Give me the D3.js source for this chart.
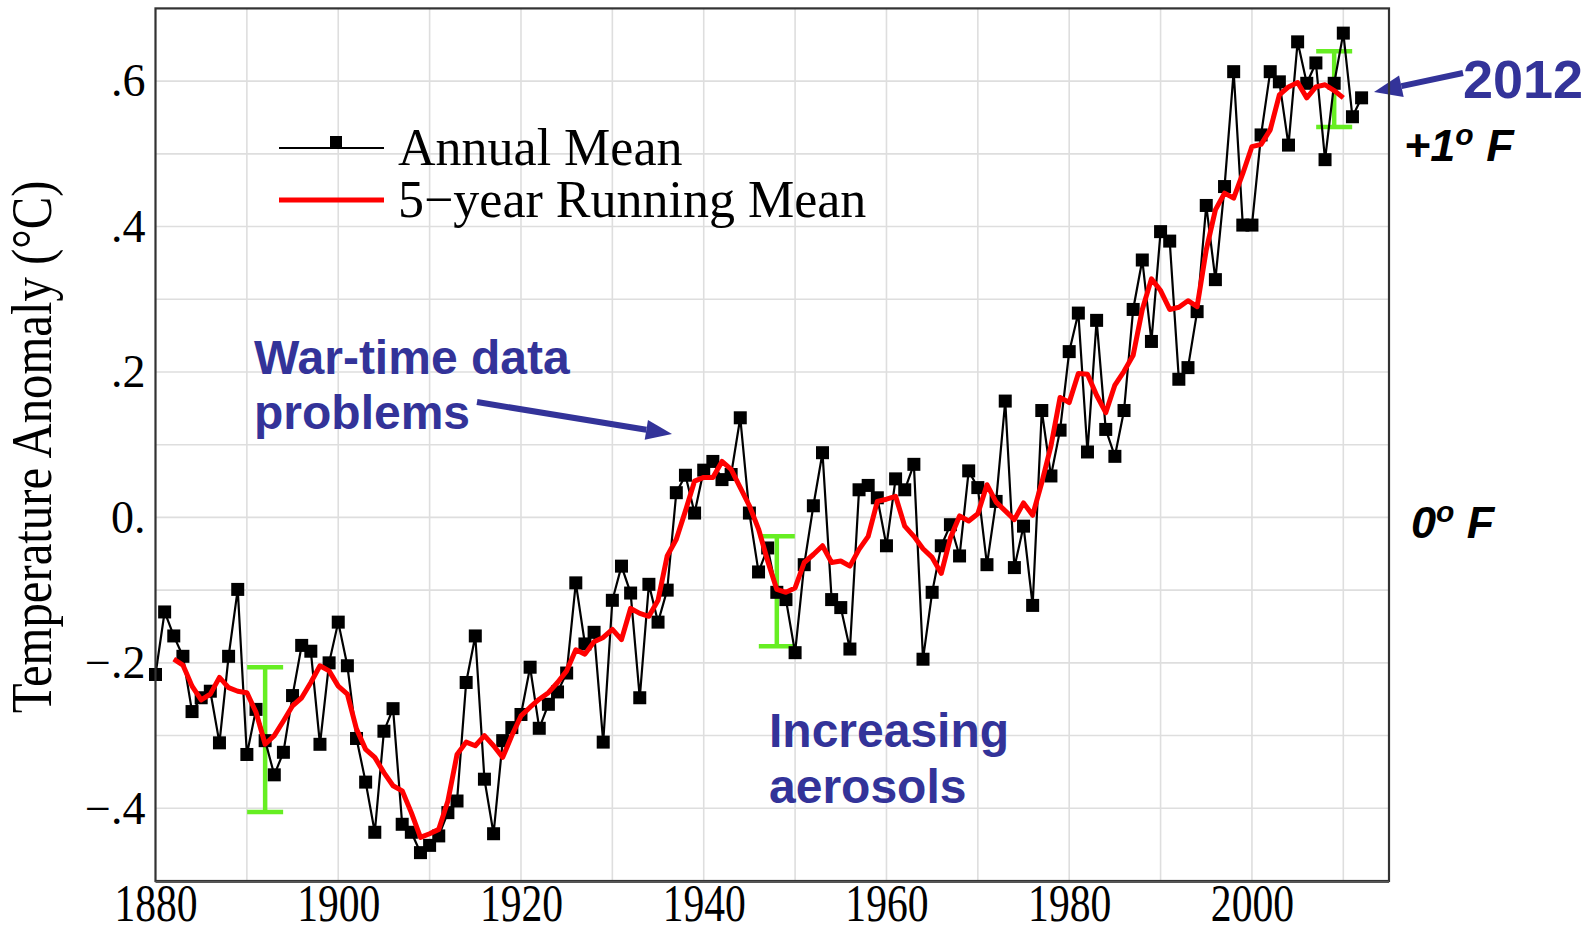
<!DOCTYPE html>
<html><head><meta charset="utf-8">
<script src="https://cdn.jsdelivr.net/npm/d3@7"></script>
<style>html,body{margin:0;padding:0;background:#fff;}svg{display:block;}</style>
</head><body>
<svg id="chart" width="1593" height="933"></svg>
<script>
// ---------- data ----------
const annualYears = [1880,1881,1882,1883,1884,1885,1886,1887,1888,1889,1890,1891,1892,1893,1894,1895,1896,1897,1898,1899,
1900,1901,1902,1903,1904,1905,1906,1907,1908,1909,1910,1911,1912,1913,1914,1915,1916,1917,1918,1919,
1920,1921,1922,1923,1924,1925,1926,1927,1928,1929,1930,1931,1932,1933,1934,1935,1936,1937,1938,1939,
1940,1941,1942,1943,1944,1945,1946,1947,1948,1949,1950,1951,1952,1953,1954,1955,1956,1957,1958,1959,
1960,1961,1962,1963,1964,1965,1966,1967,1968,1969,1970,1971,1972,1973,1974,1975,1976,1977,1978,1979,
1980,1981,1982,1983,1984,1985,1986,1987,1988,1989,1990,1991,1992,1993,1994,1995,1996,1997,1998,1999,
2000,2001,2002,2003,2004,2005,2006,2007,2008,2009,2010,2011,2012];
const annualMean = [-0.216,-0.130,-0.163,-0.191,-0.267,-0.248,-0.239,-0.310,-0.191,-0.099,-0.326,-0.264,-0.307,-0.354,-0.323,-0.245,-0.176,-0.184,-0.312,-0.200,
-0.144,-0.204,-0.304,-0.364,-0.433,-0.294,-0.263,-0.422,-0.433,-0.461,-0.451,-0.438,-0.406,-0.390,-0.227,-0.163,-0.360,-0.435,-0.307,-0.289,
-0.271,-0.206,-0.290,-0.257,-0.240,-0.214,-0.090,-0.174,-0.158,-0.309,-0.114,-0.067,-0.104,-0.248,-0.092,-0.144,-0.100,0.034,0.058,0.006,
0.065,0.077,0.052,0.059,0.137,0.006,-0.075,-0.042,-0.103,-0.113,-0.186,-0.065,0.016,0.089,-0.113,-0.124,-0.181,0.038,0.044,0.027,
-0.039,0.053,0.038,0.073,-0.195,-0.103,-0.039,-0.010,-0.053,0.064,0.041,-0.065,0.022,0.160,-0.069,-0.012,-0.121,0.147,0.057,0.120,
0.228,0.281,0.090,0.271,0.121,0.084,0.147,0.286,0.354,0.242,0.393,0.380,0.190,0.206,0.283,0.429,0.327,0.455,0.613,0.402,
0.402,0.526,0.613,0.599,0.512,0.654,0.597,0.625,0.492,0.597,0.666,0.551,0.577];

const runningYears = [1882,1883,1884,1885,1886,1887,1888,1889,1890,1891,1892,1893,1894,1895,1896,1897,1898,1899,
1900,1901,1902,1903,1904,1905,1906,1907,1908,1909,1910,1911,1912,1913,1914,1915,1916,1917,1918,1919,
1920,1921,1922,1923,1924,1925,1926,1927,1928,1929,1930,1931,1932,1933,1934,1935,1936,1937,1938,1939,
1940,1941,1942,1943,1944,1945,1946,1947,1948,1949,1950,1951,1952,1953,1954,1955,1956,1957,1958,1959,
1960,1961,1962,1963,1964,1965,1966,1967,1968,1969,1970,1971,1972,1973,1974,1975,1976,1977,1978,1979,
1980,1981,1982,1983,1984,1985,1986,1987,1988,1989,1990,1991,1992,1993,1994,1995,1996,1997,1998,1999,
2000,2001,2002,2003,2004,2005,2006,2007,2008,2009,2010];
const runningMean = [-0.195,-0.203,-0.232,-0.251,-0.243,-0.220,-0.234,-0.239,-0.241,-0.268,-0.312,-0.300,-0.280,-0.259,-0.248,-0.227,-0.204,-0.211,
-0.232,-0.243,-0.291,-0.319,-0.330,-0.351,-0.369,-0.376,-0.406,-0.440,-0.435,-0.429,-0.390,-0.326,-0.309,-0.314,-0.300,-0.314,-0.330,-0.300,
-0.273,-0.261,-0.250,-0.241,-0.227,-0.211,-0.182,-0.188,-0.171,-0.165,-0.154,-0.168,-0.125,-0.132,-0.136,-0.114,-0.053,-0.030,0.009,0.050,
0.055,0.055,0.077,0.066,0.041,0.016,-0.016,-0.060,-0.099,-0.103,-0.097,-0.062,-0.051,-0.039,-0.062,-0.060,-0.067,-0.044,-0.026,0.022,
0.025,0.029,-0.012,-0.026,-0.043,-0.055,-0.077,-0.028,0.002,-0.005,0.005,0.045,0.021,0.009,-0.003,0.020,0.003,0.048,0.098,0.165,
0.158,0.198,0.197,0.168,0.144,0.182,0.201,0.223,0.286,0.328,0.312,0.286,0.289,0.298,0.290,0.368,0.423,0.446,0.439,0.473,
0.510,0.513,0.533,0.581,0.592,0.598,0.577,0.592,0.595,0.587,0.577];

// uncertainty bars (year, low, high)
const errYears = [1892, 1948, 2009];
const errLow   = [-0.405, -0.177, 0.537];
const errHigh  = [-0.206, -0.026, 0.641];

const xTickValues = [1880,1900,1920,1940,1960,1980,2000];
const yTickValues = [-0.4,-0.2,0,0.2,0.4,0.6];
const yTickLabels = ["\u2212.4","\u2212.2","0.",".2",".4",".6"];

// ---------- layout ----------
const svg = d3.select("#chart");
const L = 155.5, R = 1389, T = 8.4, B = 881;
const x = d3.scaleLinear().domain([1880, 2015]).range([L, R]);
const y = d3.scaleLinear().domain([-0.5, 0.7]).range([B, T]);

// grid
const grid = svg.append("g");
grid.selectAll("line.v").data(d3.range(1890, 2015, 10)).join("line")
  .attr("x1", d => x(d)).attr("x2", d => x(d)).attr("y1", T).attr("y2", B)
  .attr("stroke", "#dedede").attr("stroke-width", 1.6);
grid.selectAll("line.h").data(d3.range(-4, 7).map(d => d / 10)).join("line")
  .attr("x1", L).attr("x2", R).attr("y1", d => y(d)).attr("y2", d => y(d))
  .attr("stroke", "#dedede").attr("stroke-width", 1.6);

// annotation texts (behind data)
const blue = "#333399";
const ann = svg.append("g").attr("font-family", "'Liberation Sans', Arial, sans-serif")
  .attr("font-weight", "bold").attr("fill", blue);
ann.append("text").attr("x", 254).attr("y", 374).attr("font-size", 48).text("War-time data");
ann.append("text").attr("x", 254).attr("y", 429).attr("font-size", 48).text("problems");
ann.append("text").attr("x", 769).attr("y", 747).attr("font-size", 48).text("Increasing");
ann.append("text").attr("x", 769).attr("y", 803).attr("font-size", 48).text("aerosols");

function arrow(x1, y1, x2, y2, w, hl, hw) {
  const a = Math.atan2(y2 - y1, x2 - x1);
  const bx = x2 - hl * Math.cos(a), by = y2 - hl * Math.sin(a);
  svg.append("line").attr("x1", x1).attr("y1", y1).attr("x2", bx).attr("y2", by)
    .attr("stroke", blue).attr("stroke-width", w);
  const px = -Math.sin(a) * hw / 2, py = Math.cos(a) * hw / 2;
  svg.append("polygon")
    .attr("points", `${x2},${y2} ${bx + px},${by + py} ${bx - px},${by - py}`)
    .attr("fill", blue);
}
arrow(477, 402, 672, 434, 6, 26, 20);
arrow(1463, 73, 1374, 92, 6, 28, 22);

// error bars
const green = "#66ee22";
const eb = svg.append("g").attr("stroke", green).attr("stroke-width", 4.5);
errYears.forEach((yr, i) => {
  const cx = x(yr);
  eb.append("line").attr("x1", cx).attr("x2", cx).attr("y1", y(errLow[i])).attr("y2", y(errHigh[i]));
  eb.append("line").attr("x1", cx - 18).attr("x2", cx + 18).attr("y1", y(errLow[i])).attr("y2", y(errLow[i]));
  eb.append("line").attr("x1", cx - 18).attr("x2", cx + 18).attr("y1", y(errHigh[i])).attr("y2", y(errHigh[i]));
});

// annual mean line + markers
const annual = annualYears.map((yr, i) => ({ yr, v: annualMean[i] }));
const line = d3.line().x(d => x(d.yr)).y(d => y(d.v));
svg.append("path").datum(annual).attr("d", line)
  .attr("fill", "none").attr("stroke", "#000").attr("stroke-width", 2.2);
svg.append("g").selectAll("rect").data(annual).join("rect")
  .attr("x", d => x(d.yr) - 6.5).attr("y", d => y(d.v) - 6.5)
  .attr("width", 13).attr("height", 13).attr("fill", "#000");

// running mean
const running = runningYears.map((yr, i) => ({ yr, v: runningMean[i] }));
svg.append("path").datum(running).attr("d", line)
  .attr("fill", "none").attr("stroke", "#ff0000").attr("stroke-width", 5)
  .attr("stroke-linejoin", "round");

// frame
svg.append("rect").attr("x", L).attr("y", T).attr("width", R - L).attr("height", B - T)
  .attr("fill", "none").attr("stroke", "#333").attr("stroke-width", 2.2);
svg.append("line").attr("x1", L).attr("x2", R).attr("y1", B + 1).attr("y2", B + 1)
  .attr("stroke", "#555").attr("stroke-width", 2);

// axes
const xAxis = svg.append("g").attr("transform", `translate(0,${B})`)
  .call(d3.axisBottom(x).tickValues(xTickValues).tickSize(0).tickFormat(d3.format("d")));
xAxis.select(".domain").remove();
xAxis.selectAll("text").attr("y", 0).attr("dy", 0)
  .attr("transform", "translate(0,40) scale(0.8,1.02)")
  .attr("font-family", "'Liberation Serif', 'Times New Roman', serif")
  .attr("font-size", 52).attr("fill", "#000");

const yAxis = svg.append("g").attr("transform", `translate(${L},0)`)
  .call(d3.axisLeft(y).tickValues(yTickValues).tickSize(0).tickPadding(10)
    .tickFormat((d, i) => yTickLabels[i]));
yAxis.select(".domain").remove();
yAxis.selectAll("text")
  .attr("font-family", "'Liberation Serif', 'Times New Roman', serif")
  .attr("font-size", 46).attr("fill", "#000");

// y title
svg.append("text")
  .attr("transform", "translate(51,447) rotate(-90) scale(0.87,1)")
  .attr("text-anchor", "middle")
  .attr("font-family", "'Liberation Serif', 'Times New Roman', serif")
  .attr("font-size", 56).attr("fill", "#000")
  .text("Temperature Anomaly (\u00B0C)");

// legend
const lg = svg.append("g").attr("font-family", "'Liberation Serif', 'Times New Roman', serif")
  .attr("font-size", 52).attr("fill", "#000");
lg.append("line").attr("x1", 279).attr("x2", 384).attr("y1", 148).attr("y2", 148)
  .attr("stroke", "#000").attr("stroke-width", 2.2);
lg.append("rect").attr("x", 330).attr("y", 136).attr("width", 12).attr("height", 12).attr("fill", "#000");
lg.append("text").attr("x", 398).attr("y", 165).text("Annual Mean");
lg.append("line").attr("x1", 279).attr("x2", 384).attr("y1", 200).attr("y2", 200)
  .attr("stroke", "#ff0000").attr("stroke-width", 5);
lg.append("text").attr("x", 398).attr("y", 217).text("5\u2212year Running Mean");

// right side labels
ann.append("text").attr("x", 1463).attr("y", 98).attr("font-size", 54).text("2012");
const rl = svg.append("g").attr("font-family", "'Liberation Sans', Arial, sans-serif")
  .attr("font-weight", "bold").attr("font-style", "italic").attr("fill", "#000").attr("font-size", 45);
const t1 = rl.append("text").attr("x", 1404).attr("y", 161);
t1.append("tspan").text("+1");
t1.append("tspan").attr("font-size", 30).attr("dy", -16).text("o");
t1.append("tspan").attr("dy", 16).text(" F");
const t2 = rl.append("text").attr("x", 1411).attr("y", 538);
t2.append("tspan").text("0");
t2.append("tspan").attr("font-size", 30).attr("dy", -16).text("o");
t2.append("tspan").attr("dy", 16).text(" F");
</script>
</body></html>
